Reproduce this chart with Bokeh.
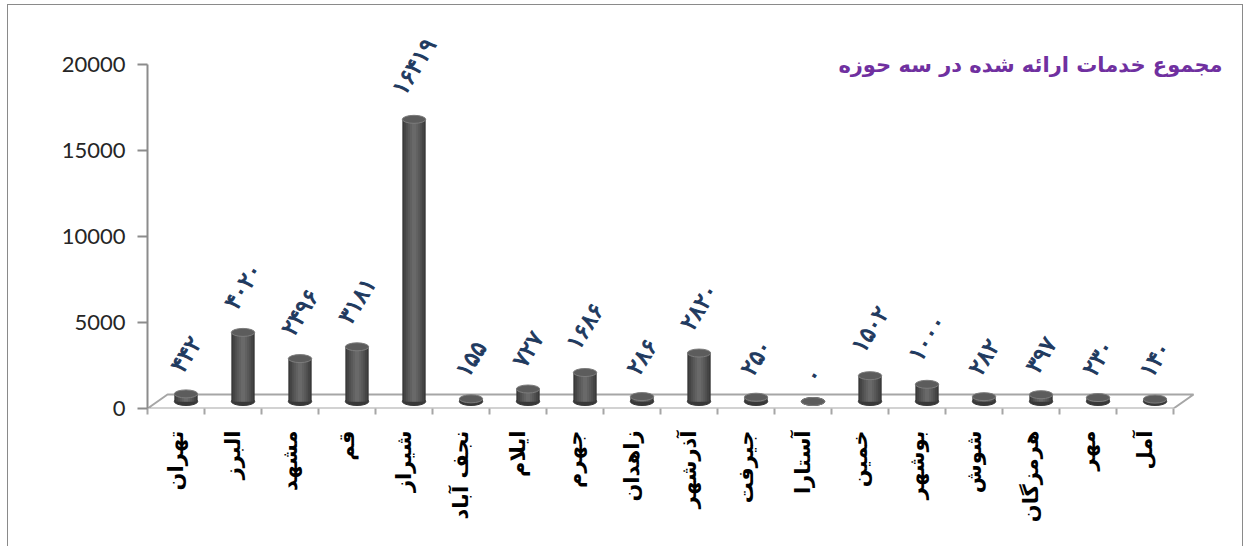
import math

from bokeh.core.properties import value
from bokeh.embed import file_html
from bokeh.models import ColumnDataSource, FixedTicker, Label, Range1d
from bokeh.plotting import figure
from bokeh.resources import INLINE

# ---- data -------------------------------------------------------------
cities = ["تهران", "البرز", "مشهد", "قم", "شیراز", "نجف آباد", "ایلام", "جهرم",
          "زاهدان", "آذرشهر", "جیرفت", "آستارا", "خمین", "بوشهر", "شوش",
          "هرمزگان", "مهر", "آمل"]
services = [442, 4020, 2496, 3181, 16419, 155, 727, 1686, 286, 2820, 250, 0,
            1502, 1000, 282, 397, 230, 140]
value_ticks = [0, 5000, 10000, 15000, 20000]
title_text = "مجموع خدمات ارائه شده در سه حوزه"

# ---- styling constants ------------------------------------------------
N = len(cities)
X_END = 19.245          # visible category span
Y_END = 23334           # visible value span
DEPTH_X = 0.351         # floor depth, in category units
DEPTH_Y = 815           # floor depth, in value units
BAR_W = 0.41
LABEL_ANGLE = math.radians(58)
LABEL_ADV = 15.5        # px per digit of the value labels
LABEL_GAP = 20          # px between bar top and value label

PERSIAN_DIGITS = str.maketrans("0123456789", "۰۱۲۳۴۵۶۷۸۹")
value_labels = [str(v).translate(PERSIAN_DIGITS) for v in services]

pos = list(range(1, N + 1))
bounds = [i + 0.5 for i in range(N + 1)]
lift = [-(LABEL_GAP + 0.5 * math.sin(LABEL_ANGLE) * LABEL_ADV * len(t)) for t in value_labels]

src = ColumnDataSource(dict(x=pos, v=services, label=value_labels, lift=lift))

p = figure(width=1236, height=543,
           x_range=Range1d(0.5, 0.5 + X_END), y_range=Range1d(0, Y_END),
           output_backend="svg", toolbar_location=None,
           min_border_left=139, min_border_right=0,
           min_border_top=2, min_border_bottom=140)
p.styles = {"border": "1px solid #8a8a8a", "margin-left": "7px", "margin-top": "4px"}
p.grid.visible = False
p.outline_line_color = None
p.background_fill_color = "white"
p.border_fill_color = "white"

# mid-depth plane of the 3D floor, where the cylinders stand
p.extra_x_ranges = {"mid": Range1d(0.5 - DEPTH_X / 2, 0.5 + X_END - DEPTH_X / 2)}
p.extra_y_ranges = {"mid": Range1d(-DEPTH_Y / 2, Y_END - DEPTH_Y / 2)}

# floor
p.patch([bounds[0], bounds[-1], bounds[-1] + DEPTH_X, bounds[0] + DEPTH_X],
        [0, 0, DEPTH_Y, DEPTH_Y],
        fill_color="white", line_color="#a6a6a6", line_width=2)

# cylinders: dark base disc, shaded body strips, lit top disc
p.ellipse(x="x", y=0, width=BAR_W, height=8, height_units="screen", source=src,
          fill_color="#383838", line_color="#383838",
          x_range_name="mid", y_range_name="mid")
shades = [(1.00, "#3a3a3a"), (0.86, "#444444"), (0.70, "#4e4e4e"),
          (0.54, "#585858"), (0.36, "#616161"), (0.18, "#696969")]
for frac, col in shades:
    p.vbar(x="x", top="v", bottom=0, width=BAR_W * frac, source=src,
           fill_color=col, line_color=None,
           x_range_name="mid", y_range_name="mid")
p.ellipse(x="x", y="v", width=BAR_W, height=8, height_units="screen", source=src,
          fill_color="#5c5c5c", line_color="#7c7c7c", line_width=1,
          x_range_name="mid", y_range_name="mid")

# value labels in Persian digits
p.text(x="x", y="v", text="label", source=src, angle=LABEL_ANGLE,
       y_offset="lift", text_align="center", text_baseline="middle",
       text_font=value("DejaVu Sans"), text_font_style="normal",
       text_font_size="23px", text_color="#1f3a5f",
       text_outline_color="#1f3a5f",
       x_range_name="mid", y_range_name="mid")

# value axis
ya = p.yaxis[0]
ya.ticker = FixedTicker(ticks=value_ticks)
ya.bounds = (0, 20000)
ya.axis_line_color = "#8c8c8c"
ya.axis_line_width = 2
ya.major_tick_line_color = "#8c8c8c"
ya.major_tick_line_width = 2
ya.major_tick_out = 10
ya.major_tick_in = 0
ya.minor_tick_line_color = None
ya.major_label_text_font = "Lato"
ya.major_label_text_font_size = "22px"
ya.major_label_text_color = "#262626"
ya.major_label_standoff = 12

# category axis
xa = p.xaxis[0]
xa.ticker = FixedTicker(ticks=pos, minor_ticks=bounds)
xa.major_label_overrides = {i: name for i, name in zip(pos, cities)}
xa.axis_line_color = None
xa.major_tick_line_color = None
xa.major_tick_out = 0
xa.major_tick_in = 0
xa.minor_tick_line_color = "#a6a6a6"
xa.minor_tick_line_width = 2
xa.minor_tick_out = 6
xa.minor_tick_in = 0
xa.major_label_orientation = math.pi / 2
xa.major_label_standoff = 16
xa.major_label_text_font = "DejaVu Sans"
xa.major_label_text_font_style = "bold"
xa.major_label_text_font_size = "21px"
xa.major_label_text_color = "black"

# chart title
p.add_layout(Label(x=19.36, y=20000, text=title_text,
                   text_align="right", text_baseline="middle",
                   text_font="DejaVu Sans", text_font_style="bold",
                   text_font_size="21px", text_color="#7030a0"))

open("out.html", "w").write(file_html(p, INLINE))
